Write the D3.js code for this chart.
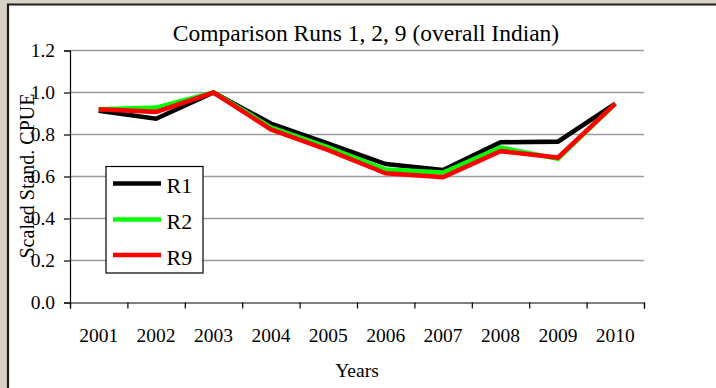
<!DOCTYPE html>
<html>
<head>
<meta charset="utf-8">
<script src="https://cdn.jsdelivr.net/npm/d3@7/dist/d3.min.js"></script>
<style>
  html, body { margin: 0; padding: 0; background: #d6d2c6; }
  svg { display: block; }
</style>
</head>
<body>
<svg id="chart" width="716" height="388"></svg>
<script>
// Scaled standardised CPUE for three model runs
const years = ["2001","2002","2003","2004","2005","2006","2007","2008","2009","2010"];
const r1 = [0.913, 0.875, 1.000, 0.852, 0.756, 0.659, 0.631, 0.763, 0.766, 0.947];
const r2 = [0.920, 0.928, 1.000, 0.834, 0.739, 0.633, 0.619, 0.738, 0.684, 0.947];
const r9 = [0.920, 0.908, 1.000, 0.824, 0.726, 0.615, 0.597, 0.721, 0.690, 0.947];
const seriesNames = ["R1", "R2", "R9"];
const seriesColors = ["#000000", "#00ff00", "#ff0000"];
const yTicks = [0, 0.2, 0.4, 0.6, 0.8, 1.0, 1.2];

const titleText = "Comparison Runs 1, 2, 9 (overall Indian)";
const xTitle = "Years";
const yTitle = "Scaled Stand. CPUE";

const FONT = "'Liberation Serif', 'Times New Roman', serif";

const series = [r1, r2, r9].map((vals, i) => ({
  name: seriesNames[i], color: seriesColors[i], values: vals
}));

const svg = d3.select("#chart");

// slide panel: white area framed by a dark edge on the top and left
svg.append("rect").attr("x", 0).attr("y", 0).attr("width", 716).attr("height", 388).attr("fill", "#d6d2c6");
svg.append("rect").attr("x", 8).attr("y", 4).attr("width", 708).attr("height", 384).attr("fill", "#ffffff");
svg.append("path").attr("d", "M8,388 V4.5 H716").attr("fill", "none").attr("stroke", "#1e1e1e").attr("stroke-width", 2.2);

const plotLeft = 70, plotRight = 644, plotTop = 50.5, plotBottom = 302.5;

const x = d3.scaleBand().domain(years).range([plotLeft, plotRight]).padding(0);
const xEdge = d3.scaleLinear().domain([0, years.length]).range([plotLeft, plotRight]);
const y = d3.scaleLinear().domain([0, 1.2]).range([plotBottom, plotTop]);

// horizontal gridlines
svg.append("g")
  .selectAll("line")
  .data(yTicks.filter(d => d > 0))
  .join("line")
  .attr("x1", plotLeft).attr("x2", plotRight)
  .attr("y1", d => y(d)).attr("y2", d => y(d))
  .attr("stroke", "#9a9a9a").attr("stroke-width", 1.4);

// y axis
const yAxis = svg.append("g")
  .attr("transform", `translate(${plotLeft},0)`)
  .attr("font-family", FONT)
  .call(d3.axisLeft(y).tickValues(yTicks).tickFormat(d3.format(".1f")).tickSize(6).tickPadding(9));
yAxis.attr("font-family", FONT).attr("font-size", 19.5);
yAxis.select(".domain").attr("stroke", "#000").attr("stroke-width", 1.2);
yAxis.selectAll(".tick line").attr("stroke", "#000").attr("stroke-width", 1.2);
yAxis.selectAll(".tick text").attr("fill", "#000");

// x axis: tick marks at category edges
const xTickAxis = svg.append("g")
  .attr("transform", `translate(0,${plotBottom})`)
  .call(d3.axisBottom(xEdge).tickValues(d3.range(years.length + 1)).tickFormat("").tickSize(6));
xTickAxis.select(".domain").attr("stroke", "#000").attr("stroke-width", 1.2);
xTickAxis.selectAll(".tick line").attr("stroke", "#000").attr("stroke-width", 1.2);

// x axis: year labels at category centres
const xLabelAxis = svg.append("g")
  .attr("transform", `translate(0,${plotBottom})`)
  .call(d3.axisBottom(x).tickSize(0).tickPadding(26));
xLabelAxis.attr("font-family", FONT).attr("font-size", 19.5);
xLabelAxis.select(".domain").remove();
xLabelAxis.selectAll(".tick text").attr("fill", "#000");

// series lines
const line = d3.line()
  .x((d, i) => x(years[i]) + x.bandwidth() / 2)
  .y(d => y(d));

svg.append("g")
  .selectAll("path")
  .data(series)
  .join("path")
  .attr("d", d => line(d.values))
  .attr("fill", "none")
  .attr("stroke", d => d.color)
  .attr("stroke-width", 4.6)
  .attr("stroke-linejoin", "miter")
  .attr("stroke-linecap", "butt");

// titles
svg.append("text")
  .attr("x", 366).attr("y", 40.5)
  .attr("text-anchor", "middle")
  .attr("font-family", FONT).attr("font-size", 23.5)
  .text(titleText);

svg.append("text")
  .attr("x", (plotLeft + plotRight) / 2).attr("y", 377)
  .attr("text-anchor", "middle")
  .attr("font-family", FONT).attr("font-size", 19.5)
  .text(xTitle);

svg.append("text")
  .attr("transform", "translate(34,176) rotate(-90)")
  .attr("text-anchor", "middle")
  .attr("font-family", FONT).attr("font-size", 20)
  .text(yTitle);

// legend
const legend = svg.append("g");
legend.append("rect")
  .attr("x", 106).attr("y", 166.5).attr("width", 97).attr("height", 106.5)
  .attr("fill", "#ffffff").attr("stroke", "#000").attr("stroke-width", 1.2);

const legendRows = [183.5, 219.5, 255];
const items = legend.selectAll("g.item")
  .data(series)
  .join("g")
  .attr("class", "item")
  .attr("transform", (d, i) => `translate(0,${legendRows[i]})`);
items.append("line")
  .attr("x1", 113).attr("x2", 161).attr("y1", 0).attr("y2", 0)
  .attr("stroke", d => d.color).attr("stroke-width", 4.6);
items.append("text")
  .attr("x", 166.5).attr("y", 9.5)
  .attr("font-family", FONT).attr("font-size", 22)
  .text(d => d.name);
</script>
</body>
</html>
